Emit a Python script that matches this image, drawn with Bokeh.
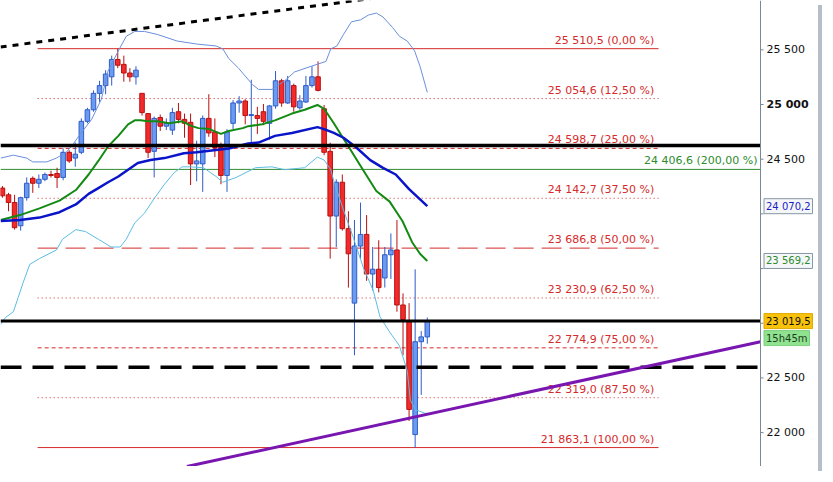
from bokeh.plotting import figure
from bokeh.models import ColumnDataSource, Range1d, Span, Div
from bokeh.layouts import row
from bokeh.embed import file_html
from bokeh.resources import INLINE
from bokeh.core.properties import value

# ---------------- data ----------------
open_ = [24236, 24174, 24104, 23891, 24148, 24325, 24280, 24316, 24360, 24369,
         24333, 24563, 24510, 24563, 24846, 24952, 25102, 25173, 25253, 25412,
         25367, 25288, 25253, 25102, 24917, 24572, 24881, 24802, 24766, 24934,
         24864, 24837, 24457, 24457, 24873, 24749, 24607, 24351, 24828, 25014,
         25032, 24899, 24899, 24934, 24828, 24987, 25217, 25014, 25173, 24970,
         25023, 25173, 25253, 24961, 24572, 23980, 24289, 23865, 23184, 23706,
         23812, 23450, 23494, 23414, 23626, 23670, 23167, 23016, 21982, 22831, 22875]
high = [24254, 24192, 24174, 24157, 24333, 24342, 24360, 24378, 24395, 24422,
        24598, 24581, 24652, 24873, 24970, 25129, 25217, 25314, 25447, 25510.5,
        25447, 25332, 25350, 25102, 24917, 24890, 24908, 24873, 24970, 25014,
        24917, 24917, 24669, 24899, 25094, 24873, 24652, 24775, 25040, 25076,
        25049, 25226, 24979, 25005, 24996, 25306, 25235, 25261, 25191, 25085,
        25261, 25350, 25394, 24996, 24651, 24316, 24360, 24024, 23944, 24103,
        23989, 23697, 23759, 23697, 23821, 23944, 23273, 23184, 23493, 22928, 23052]
low = [24148, 24024, 23856, 23847, 24121, 24192, 24236, 24298, 24333, 24236,
       24307, 24466, 24431, 24546, 24828, 24934, 25023, 25094, 25173, 25332,
       25208, 25208, 25182, 24899, 24510, 24333, 24758, 24766, 24722, 24828,
       24696, 24263, 24298, 24201, 24705, 24519, 24271, 24201, 24775, 24925,
       24819, 24643, 24731, 24811, 24678, 24961, 24979, 25005, 24934, 24952,
       25014, 25155, 25120, 24537, 23591, 23697, 23847, 23326, 22707, 23591,
       23388, 23299, 23282, 23326, 23405, 23105, 22707, 22106, 21863.1, 22345, 22813]
close = [24165, 24104, 23874, 24148, 24280, 24280, 24316, 24360, 24351, 24333,
         24563, 24484, 24546, 24846, 24952, 25102, 25173, 25279, 25412, 25359,
         25288, 25253, 25314, 24926, 24563, 24873, 24802, 24828, 24926, 24864,
         24828, 24457, 24484, 24873, 24740, 24607, 24351, 24749, 25014, 25032,
         24899, 24908, 24873, 24846, 24987, 25217, 25014, 25217, 24979, 25032,
         25173, 25253, 25129, 24563, 23980, 24289, 23865, 23635, 23706, 23812,
         23450, 23494, 23326, 23626, 23670, 23167, 23034, 22212, 22831, 22875, 23019.5]

# moving average 20 (green) at bar positions
ma20_x = [-0.3, 2.9, 6.1, 9.4, 12.1, 14.2, 15.8, 17.4, 19.1, 20.7,
          21.8, 22.8, 23.9, 25.5, 27.5, 29.6, 31.2, 32.3, 34.1, 36.0,
          37.3, 39.6, 40.5, 42.8, 44.9, 47.7, 49.8, 51.9, 53.0, 54.6,
          56.2, 57.4, 59.5, 61.6, 63.8, 65.9, 67.5, 68.8, 70.0]
ma20_y = [23944, 23989, 24050, 24121, 24218, 24360, 24484, 24616, 24713, 24819,
          24855, 24855, 24846, 24846, 24828, 24846, 24802, 24784, 24775, 24731,
          24758, 24784, 24802, 24819, 24855, 24917, 24952, 24996, 24961, 24828,
          24687, 24581, 24395, 24209, 24112, 23935, 23741, 23635, 23569.2]

# moving average 50 (blue)
ma50_x = [-0.3, 2.9, 6.1, 9.4, 12.1, 14.2, 15.8, 17.4, 19.1, 20.7,
          22.3, 24.4, 26.7, 29.9, 32.0, 37.3, 40.5, 42.2, 44.9, 47.7,
          51.9, 53.0, 54.6, 56.2, 58.3, 60.6, 62.7, 64.8, 67.0, 70.0]
ma50_y = [23935, 23944, 23966, 24015, 24086, 24183, 24236, 24289, 24342, 24404,
          24466, 24492, 24510, 24554, 24563, 24598, 24643, 24652, 24713, 24740,
          24793, 24775, 24740, 24696, 24607, 24492, 24421, 24360, 24227, 24070.2]

# Bollinger upper band
bbu_x = [-0.3, 1.8, 4.0, 5.0, 7.3, 8.9, 10.5, 11.5, 12.6, 14.7,
         16.3, 17.4, 19.1, 20.4, 21.8, 23.4, 25.5, 28.8, 32.0, 35.2,
         36.3, 37.3, 38.9, 41.2, 42.2, 44.4, 46.5, 48.1, 50.9, 53.3,
         54.1, 55.1, 56.2, 57.5, 59.0, 60.3, 61.6, 62.7, 64.3, 65.4,
         66.7, 67.9, 68.8, 70.0]
bbu_y = [24510, 24537, 24510, 24475, 24475, 24510, 24563, 24625, 24713, 24864,
         25049, 25306, 25491, 25624, 25668, 25668, 25641, 25580, 25553, 25535,
         25509, 25420, 25332, 25182, 25138, 25138, 25217, 25297, 25350, 25394,
         25509, 25535, 25641, 25756, 25774, 25818, 25836, 25800, 25703, 25624,
         25580, 25491, 25350, 25111]

# Bollinger lower band
bbl_x = [-0.3, 0.5, 1.8, 2.6, 3.4, 4.5, 6.1, 8.9, 9.9, 12.1,
         13.7, 15.8, 17.9, 19.4, 20.4, 21.8, 23.4, 25.0, 26.7, 28.3,
         29.6, 30.9, 33.1, 35.2, 36.3, 38.5, 41.7, 44.4, 46.5, 49.8,
         51.9, 53.0, 54.1, 54.6, 56.2, 57.8, 59.5, 61.1, 62.2, 63.8,
         65.4, 66.7, 67.2, 68.0, 69.6, 70.0]
bbl_y = [22990, 23052, 23105, 23237, 23370, 23538, 23591, 23670, 23768, 23856,
         23838, 23768, 23697, 23697, 23768, 23918, 24006, 24139, 24271, 24377,
         24430, 24430, 24422, 24342, 24289, 24333, 24422, 24430, 24404, 24422,
         24519, 24492, 24404, 24298, 24033, 23785, 23502, 23299, 23060, 22919,
         22795, 22565, 22300, 22212, 22177, 22177]

# Fibonacci retracement levels
fib_levels = [25510.5, 25054.6, 24598.7, 24142.7, 23686.8, 23230.9, 22774.9, 22319.0, 21863.1]
fib_labels = ["25 510,5 (0,00 %)", "25 054,6 (12,50 %)", "24 598,7 (25,00 %)",
              "24 142,7 (37,50 %)", "23 686,8 (50,00 %)", "23 230,9 (62,50 %)",
              "22 774,9 (75,00 %)", "22 319,0 (87,50 %)", "21 863,1 (100,00 %)"]
fib_dash = ["solid", "1 3", "4 3", "1 3", "20 8", "1 3", "4 3", "1 3", "solid"]
fib_ext_level = 24406.6
fib_ext_label = "24 406,6 (200,00 %)"
fib_from, fib_to = 5.8, 108.1

# horizontal support / resistance lines
black_levels = [24625, 23019.5]
black_dashed_level = 22598

# trend lines (two points each, bar index / price)
purple_x = [30.4, 124.9]
purple_y = [21690, 22831]
top_x = [-0.3, 70.0]
top_y = [25526, 26036]

# right price scale
tick_values = [22000, 22500, 23000, 23500, 24000, 24500, 25000, 25500]
tick_labels = ["22 000", "22 500", "", "", "", "24 500", "25 000", "25 500"]
tick_bold = [False, False, False, False, False, False, True, False]
tag_values = [24070.2, 23569.2, 23019.5]
tag_texts = ["24 070,2", "23 569,2", "23 019,5"]
countdown = "15h45m"

# ---------------- figure ----------------
FONT = "DejaVu Sans"
Y0, Y1 = 21690, 25951
X0, XA = -0.32, 124.9          # XA = position of the price scale line
W, H = 813, 466
FRAME_PRICE_W = 760             # pixels from left edge to the price scale line
ux = (XA - X0) / FRAME_PRICE_W  # bar units per pixel
X1 = X0 + W * ux
py = (Y1 - Y0) / H              # price units per pixel

p = figure(width=W, height=H, output_backend="svg", toolbar_location=None,
           x_axis_location=None, y_axis_location=None,
           x_range=Range1d(X0, X1), y_range=Range1d(Y0, Y1),
           min_border_left=0, min_border_top=0, min_border_bottom=0, min_border_right=0)
p.grid.visible = False
p.outline_line_color = None
p.background_fill_color = "white"
p.border_fill_color = "white"

def hline(level, **kw):
    p.line([X0, XA], [level, level], **kw)

# fib lines
for lvl, dash in zip(fib_levels, fib_dash):
    p.line([fib_from, fib_to], [lvl, lvl], line_color="#d42a2a", line_width=1, line_dash=dash)
p.text(x=[fib_to - 0.7] * len(fib_levels), y=[l + 8.5 * py for l in fib_levels], text=fib_labels,
       text_align="right", text_baseline="middle", text_color="#d42a2a",
       text_font=value(FONT), text_font_size="11px")

hline(fib_ext_level, line_color="#2e8b2e", line_width=1)
p.text(x=[XA - 3 * ux], y=[fib_ext_level + 8.5 * py], text=[fib_ext_label],
       text_align="right", text_baseline="middle", text_color="#2e8b2e",
       text_font=value(FONT), text_font_size="11px")

# candles
n = len(open_)
bars = list(range(n))
up = [c >= o for o, c in zip(open_, close)]
src = ColumnDataSource(dict(
    x=bars, o=open_, h=high, l=low, c=close,
    top=[max(o, c) for o, c in zip(open_, close)],
    bot=[min(o, c) for o, c in zip(open_, close)],
    fill=["#6b9bf0" if u else "#f22a2a" for u in up],
    edge=["#2f5cc8" if u else "#b81010" for u in up],
))
p.segment(x0="x", y0="l", x1="x", y1="h", line_color="edge", line_width=1, source=src)
p.vbar(x="x", width=0.75, top="top", bottom="bot", fill_color="fill", line_color="edge",
       line_width=1, source=src)

# indicators
p.line(bbu_x, bbu_y, line_color="#6a8fdc", line_width=1)
p.line(bbl_x, bbl_y, line_color="#5cbde3", line_width=1)
p.line(ma20_x, ma20_y, line_color="#138a13", line_width=2)
p.line(ma50_x, ma50_y, line_color="#0a14c8", line_width=2.5)

# black horizontal lines
hline(black_levels[0], line_color="black", line_width=3.5)
hline(black_levels[1], line_color="black", line_width=3)
hline(black_dashed_level, line_color="black", line_width=3.5, line_dash="21 11")

# trend lines
p.line(top_x, top_y, line_color="black", line_width=3, line_dash="6 6")
p.line(purple_x, purple_y, line_color="#7a16b0", line_width=3)

# price scale (right)
p.add_layout(Span(location=XA, dimension="height", line_color="#7b8793", line_width=1))
p.segment(x0=[XA] * len(tick_values), x1=[XA + 3 * ux] * len(tick_values),
          y0=tick_values, y1=tick_values, line_color="#7b8793", line_width=1)
for style, flag in (("normal", False), ("bold", True)):
    ys = [v for v, b in zip(tick_values, tick_bold) if b == flag]
    ts = [t for t, b in zip(tick_labels, tick_bold) if b == flag]
    p.text(x=[XA + 6 * ux] * len(ys), y=ys, text=ts,
           text_align="left", text_baseline="middle", text_color="#111111",
           text_font=value(FONT), text_font_size="11px", text_font_style=style)

tag_bg = ["#f4f6f8", "#f4f6f8", "#f8c20c"]
tag_fg = ["#1c1cc8", "#2e8b2e", "#111111"]
tag_bd = ["#8796a5", "#8796a5", "#e0a800"]
for v, t, bg, fg, bd in zip(tag_values, tag_texts, tag_bg, tag_fg, tag_bd):
    p.text(x=[XA + 3.5 * ux], y=[v], text=[t], text_align="left", text_baseline="middle",
           text_color=fg, text_font=value(FONT), text_font_size="10px",
           background_fill_color=bg, border_line_color=bd, padding=2)
p.text(x=[XA + 3.5 * ux], y=[tag_values[2] - 17 * py], text=[countdown], text_align="left",
       text_baseline="middle", text_color="#1d3d1d", text_font=value(FONT),
       text_font_size="10px", background_fill_color="#8fe28f",
       border_line_color="#7ccf7c", padding=2)

edge = Div(width=4, height=H, styles={"background-color": "#b5bfc9"})
layout = row(p, edge)

open("out.html", "w").write(file_html(layout, INLINE))
